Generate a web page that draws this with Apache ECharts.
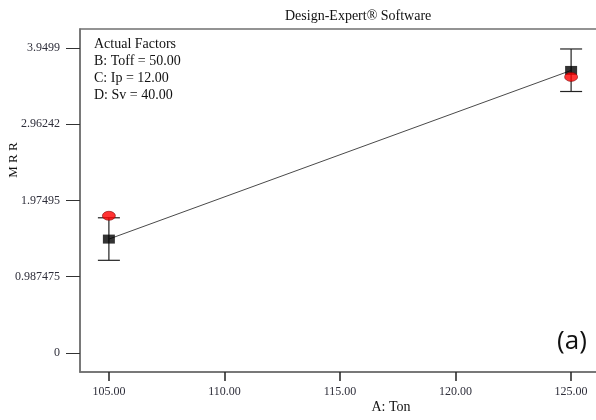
<!DOCTYPE html>
<html>
<head>
<meta charset="utf-8">
<style>
  html, body { margin: 0; padding: 0; background: #fff; }
  #chart { width: 596px; height: 420px; }
</style>
<script src="https://cdn.jsdelivr.net/npm/echarts@6/dist/echarts.min.js"></script>
</head>
<body>
<div id="chart"></div>
<script>
// Factor A levels (Ton)
const tonLevels = [105, 125];
// Model prediction of MRR at each level
const predicted = [1.475, 3.66];
// Measured design points
const actual = [1.777, 3.576];
// Least-significant-difference bars around the prediction
const barLow = [1.200, 3.387];
const barHigh = [1.751, 3.938];

// Axis ticks
const xTicks = [105, 110, 115, 120, 125];
const xTickLabels = ['105.00', '110.00', '115.00', '120.00', '125.00'];
const yTicks = [0, 0.987475, 1.97495, 2.96242, 3.9499];
const yTickLabels = ['0', '0.987475', '1.97495', '2.96242', '3.9499'];

// Axis extents (1/16 padding around the data ranges)
const xMin = 103.75, xMax = 126.25;
const yMin = -0.24687, yMax = 4.19677;

const factorLines = ['Actual Factors', 'B: Toff = 50.00', 'C: Ip = 12.00', 'D: Sv = 40.00'];

const serif = '"Liberation Serif", "DejaVu Serif", serif';
const labelColor = '#2e2e3a';
const axisColor = '#707070';

const chart = echarts.init(document.getElementById('chart'), null, { renderer: 'canvas' });

const predPairs = tonLevels.map((x, i) => [x, predicted[i]]);
const actualPairs = tonLevels.map((x, i) => [x, actual[i]]);
const barData = tonLevels.map((x, i) => [x, barLow[i], barHigh[i]]);

const tickLookup = (ticks, labels) => v => {
  for (let i = 0; i < ticks.length; i++) {
    if (Math.abs(ticks[i] - v) < 1e-6) return labels[i];
  }
  return '';
};

chart.setOption({
  animation: false,
  backgroundColor: '#ffffff',
  grid: {
    left: 80, top: 29, width: 520, height: 343,
    outerBoundsMode: 'none', containLabel: false,
    show: true, borderColor: axisColor, borderWidth: 1.5, backgroundColor: 'transparent'
  },
  xAxis: {
    type: 'value', min: xMin, max: xMax, position: 'bottom',
    axisLine: { show: true, onZero: false, lineStyle: { color: axisColor, width: 1.5 } },
    axisTick: { show: true, inside: false, length: 9, customValues: xTicks, lineStyle: { color: '#222', width: 1.5 } },
    axisLabel: {
      customValues: xTicks, formatter: tickLookup(xTicks, xTickLabels),
      fontFamily: serif, fontSize: 12, color: labelColor, margin: 14
    },
    splitLine: { show: false }
  },
  yAxis: {
    type: 'value', min: yMin, max: yMax,
    axisLine: { show: true, onZero: false, lineStyle: { color: axisColor, width: 1.5 } },
    axisTick: { show: true, inside: false, length: 14, customValues: yTicks, lineStyle: { color: '#333', width: 1 } },
    axisLabel: {
      customValues: yTicks, formatter: tickLookup(yTicks, yTickLabels),
      fontFamily: serif, fontSize: 12, color: labelColor, margin: 20
    },
    splitLine: { show: false }
  },
  series: [
    {
      type: 'custom',
      data: barData,
      z: 2,
      renderItem: (params, api) => {
        const x = api.value(0);
        const lo = api.coord([x, api.value(1)]);
        const hi = api.coord([x, api.value(2)]);
        const half = 11;
        const style = { stroke: '#222', lineWidth: 1.2 };
        return {
          type: 'group',
          children: [
            { type: 'line', shape: { x1: lo[0], y1: lo[1], x2: hi[0], y2: hi[1] }, style },
            { type: 'line', shape: { x1: hi[0] - half, y1: hi[1], x2: hi[0] + half, y2: hi[1] }, style },
            { type: 'line', shape: { x1: lo[0] - half, y1: lo[1], x2: lo[0] + half, y2: lo[1] }, style }
          ]
        };
      }
    },
    {
      type: 'line',
      data: predPairs,
      symbol: 'none',
      z: 3,
      lineStyle: { color: '#4a4a4a', width: 1 }
    },
    {
      type: 'scatter',
      data: predPairs,
      symbol: 'rect',
      symbolSize: [12, 9],
      z: 4,
      itemStyle: { color: '#000' }
    },
    {
      type: 'scatter',
      data: actualPairs,
      symbol: 'circle',
      symbolSize: [13, 9],
      z: 5,
      itemStyle: { color: '#ff0000', borderColor: '#7a0000', borderWidth: 0.7 }
    }
  ],
  graphic: [
    {
      type: 'text', left: 285, top: 9,
      style: { text: 'Design-Expert® Software', font: '14px ' + serif, fill: '#111' }
    },
    {
      type: 'text', left: 94, top: 36,
      style: { text: factorLines.join('\n'), font: '14px ' + serif, lineHeight: 17, fill: '#111' }
    },
    {
      type: 'text', x: 14, y: 160, rotation: Math.PI / 2,
      style: { text: 'M R R', font: '13px ' + serif, fill: '#111', align: 'center', verticalAlign: 'middle' }
    },
    {
      type: 'text', x: 391, y: 407,
      style: { text: 'A: Ton', font: '14px ' + serif, fill: '#111', align: 'center', verticalAlign: 'middle' }
    },
    {
      type: 'text', x: 572, y: 342,
      style: { text: '(a)', font: '26px "Open Sans", "Liberation Sans", sans-serif', fill: '#111', align: 'center', verticalAlign: 'middle' }
    }
  ]
});
</script>
</body>
</html>
